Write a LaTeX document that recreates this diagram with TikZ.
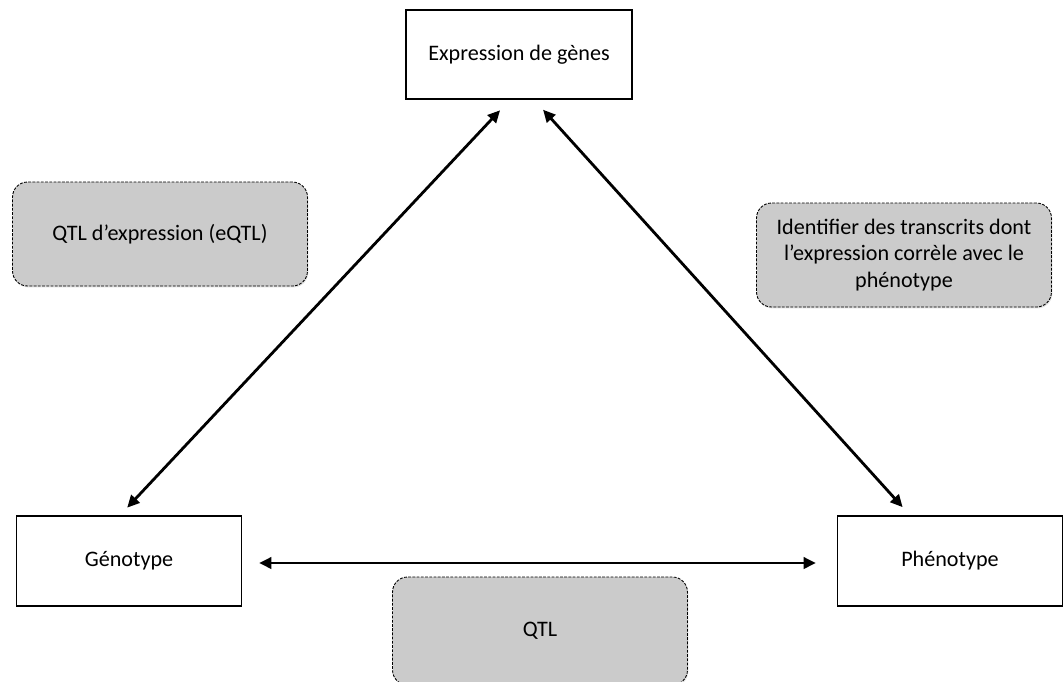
\documentclass[tikz,border=0pt]{standalone}
\usepackage{fontspec}
\setmainfont{Carlito}
\usetikzlibrary{arrows.meta,shadows}
\definecolor{notegray}{HTML}{CBCBCB}
\begin{document}
\begin{tikzpicture}
[x=0.02cm,y=-0.02cm,
  font=\fontsize{12.6}{15}\selectfont,
  boxdecorate/.style={shape=rectangle,draw,line width=0.8pt,fill=white,
    minimum width=4.5cm,minimum height=1.8cm,
    drop shadow={opacity=0.25,shadow xshift=0.5pt,shadow yshift=-0.8pt}},
  notedecorate/.style={shape=rectangle,draw,line width=0.5pt,fill=notegray,
    dash pattern=on 1.6pt off 0.8pt,rounded corners=0.3cm,
    minimum width=5.9cm,minimum height=2.08cm,align=center,
    drop shadow={opacity=0.25,shadow xshift=0.5pt,shadow yshift=-0.8pt}},
  linedecorate/.style={{Triangle[length=7pt,width=6.5pt]}-{Triangle[length=7pt,width=6.5pt]},line width=1.6pt}]
\useasboundingbox (0,0) rectangle (1063,681);
% boxes
\node (expr) at (519,54.5) [boxdecorate,minimum width=4.52cm,minimum height=1.78cm] {Expression de gènes};
\node (geno) at (129,561) [boxdecorate] {Génotype};
\node (pheno) at (950,561) [boxdecorate] {Phénotype};
% notes
\node (eqtl) at (160,234) [notedecorate] {QTL d’expression (eQTL)};
\node (ident) at (904,255) [notedecorate] {Identifier des transcrits dont\\l’expression corrèle avec le\\phénotype};
\node (qtl) at (540,631) [notedecorate,minimum height=2.16cm] {QTL};
% arrows
\draw[linedecorate,shorten <=0.29cm,shorten >=0.21cm] ([xshift=-0.18cm]expr.south) -- ([xshift=-0.18cm]geno.north);
\draw[linedecorate,shorten <=0.27cm,shorten >=0.22cm] ([xshift=0.3cm]expr.south) -- ([xshift=-0.8cm]pheno.north);
\draw[linedecorate,shorten <=0.34cm,shorten >=0.42cm] ([yshift=-0.04cm]geno.east) -- ([yshift=-0.04cm]pheno.west);
\end{tikzpicture}
\end{document}
